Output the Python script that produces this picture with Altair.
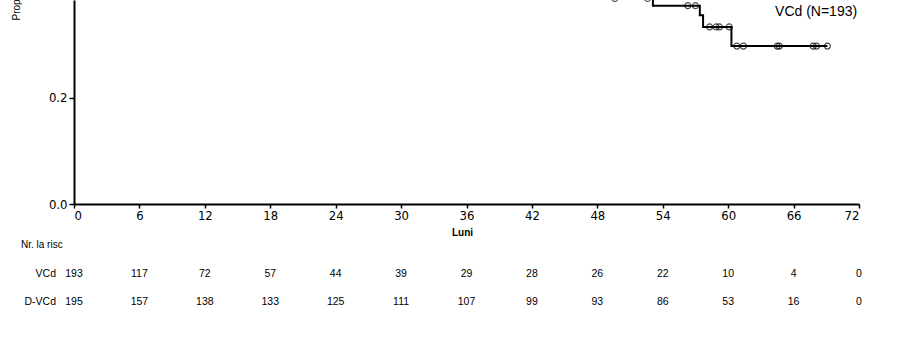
import altair as alt
import pandas as pd

# Kaplan-Meier curve (visible part), VCd arm
step_months = [45.0, 53.1, 57.4, 57.7, 60.3, 69.1]
step_surv = [0.3866, 0.373, 0.355, 0.333, 0.297, 0.297]

# Censored observations
censor_months = [49.6, 52.6, 56.3, 57.0, 58.3, 58.9, 59.2, 60.1, 60.8, 61.4, 64.5, 64.7, 67.8, 68.1, 69.1]
censor_surv = [0.3866, 0.3866, 0.373, 0.373, 0.333, 0.333, 0.333, 0.333,
               0.297, 0.297, 0.297, 0.297, 0.297, 0.297, 0.297]

# Number at risk table
risk_months = [0, 6, 12, 18, 24, 30, 36, 42, 48, 54, 60, 66, 72]
risk_vcd = [193, 117, 72, 57, 44, 39, 29, 28, 26, 22, 10, 4, 0]
risk_dvcd = [195, 157, 138, 133, 125, 111, 107, 99, 93, 86, 53, 16, 0]

x_ticks = [0, 6, 12, 18, 24, 30, 36, 42, 48, 54, 60, 66, 72]
y_ticks = [0.0, 0.2]

curve = pd.DataFrame({"t": step_months, "s": step_surv})
cens = pd.DataFrame({"t": censor_months, "s": censor_surv})
risk1 = pd.DataFrame({"t": risk_months, "n": risk_vcd})
risk2 = pd.DataFrame({"t": risk_months, "n": risk_dvcd})
legend = pd.DataFrame({"t": [64.3], "s": [0.361], "label": ["VCd (N=193)"]})

FONT = "Liberation Sans, Arial, sans-serif"
NARROW = "Liberation Sans Narrow, Arial Narrow, DejaVu Sans Condensed, sans-serif"

xscale = alt.Scale(domain=[0, 72], nice=False, zero=False)
yscale = alt.Scale(domain=[0, 0.3837], nice=False)

xaxis = alt.Axis(values=x_ticks, format="d", title="Luni", grid=False,
                 domainColor="black", domainWidth=2, tickColor="black", tickWidth=1.5,
                 tickSize=4, labelPadding=1, labelFont=NARROW, labelFontSize=13,
                 labelColor="black", titleFont=FONT, titleFontSize=10,
                 titleFontWeight="bold", titleColor="black", titleX=388, titleY=31,
                 titleAlign="center", titleBaseline="alphabetic")
yaxis = alt.Axis(values=y_ticks, format=".1f", title="Proporția de pacienți în viață și fără progresie",
                 grid=False, domainColor="black", domainWidth=2, tickColor="black",
                 tickWidth=1.5, tickSize=5, labelPadding=2, labelFont=NARROW,
                 labelFontSize=13, labelColor="black", titleFont=FONT, titleFontSize=10,
                 titleFontWeight="normal", titleColor="black", titleAngle=270,
                 titleX=-55, titleY=20, titleAlign="left", titleBaseline="alphabetic")

line = alt.Chart(curve).mark_line(interpolate="step-after", color="black", strokeWidth=2).encode(
    x=alt.X("t:Q", scale=xscale, axis=xaxis),
    y=alt.Y("s:Q", scale=yscale, axis=yaxis),
)

points = alt.Chart(cens).mark_point(shape="circle", filled=False, color="black",
                                    size=36, strokeWidth=1.2).encode(
    x=alt.X("t:Q", scale=xscale),
    y=alt.Y("s:Q", scale=yscale),
)

leg = alt.Chart(legend).mark_text(align="left", baseline="middle", font=FONT,
                                  fontSize=14, color="black").encode(
    x=alt.X("t:Q", scale=xscale),
    y=alt.Y("s:Q", scale=yscale),
    text="label:N",
)

row1 = alt.Chart(risk1).mark_text(align="center", baseline="middle", font=FONT,
                                  fontSize=10.5, color="black").encode(
    x=alt.X("t:Q", scale=xscale),
    y=alt.value(273.5),
    text="n:Q",
)
row2 = alt.Chart(risk2).mark_text(align="center", baseline="middle", font=FONT,
                                  fontSize=10.5, color="black").encode(
    x=alt.X("t:Q", scale=xscale),
    y=alt.value(301.7),
    text="n:Q",
)

lab1 = alt.Chart(pd.DataFrame({"label": ["VCd"]})).mark_text(
    align="right", baseline="middle", font=FONT, fontSize=10.5, color="black").encode(
    x=alt.value(-18), y=alt.value(273.5), text="label:N")
lab2 = alt.Chart(pd.DataFrame({"label": ["D-VCd"]})).mark_text(
    align="right", baseline="middle", font=FONT, fontSize=10.5, color="black").encode(
    x=alt.value(-18), y=alt.value(301.7), text="label:N")
head = alt.Chart(pd.DataFrame({"label": ["Nr. la risc"]})).mark_text(
    align="left", baseline="middle", font=FONT, fontSize=10, color="black").encode(
    x=alt.value(-53), y=alt.value(245), text="label:N")

chart = alt.layer(line, points, leg, row1, row2, lab1, lab2, head).properties(
    width=785, height=204,
    padding={"left": 74, "top": 0, "right": 62, "bottom": 149},
    autosize=alt.AutoSizeParams(type="none"),
    background="white",
).configure_view(strokeWidth=0)

chart.save("out.html", embed_options={"renderer": "svg", "actions": False})
